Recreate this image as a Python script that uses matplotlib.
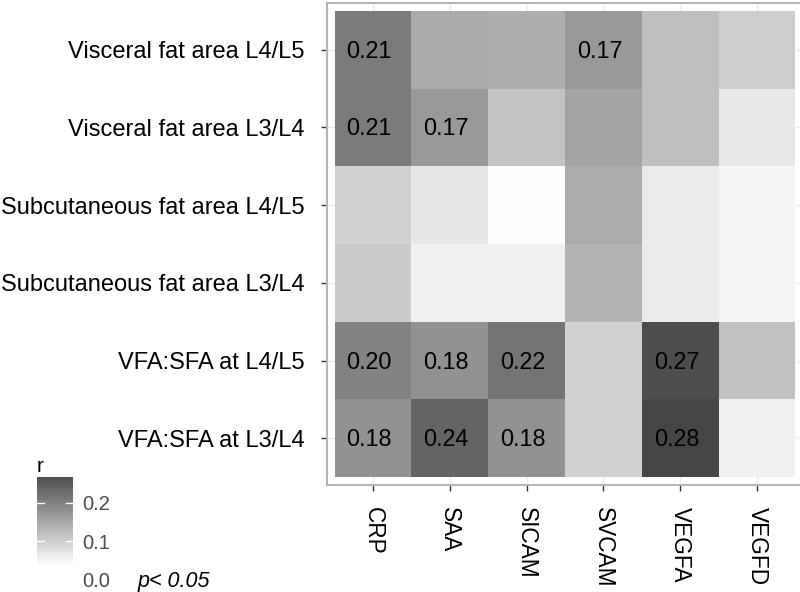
import matplotlib
matplotlib.use('Agg')
import matplotlib.pyplot as plt
import numpy as np
from matplotlib.colors import LinearSegmentedColormap, Normalize

plt.rcParams['font.family'] = ['Liberation Sans', 'DejaVu Sans']

rows = ["Visceral fat area L4/L5", "Visceral fat area L3/L4",
        "Subcutaneous fat area L4/L5", "Subcutaneous fat area L3/L4",
        "VFA:SFA at L4/L5", "VFA:SFA at L3/L4"]
cols = ["CRP", "SAA", "SICAM", "SVCAM", "VEGFA", "VEGFD"]

r_values = [
    [0.21, 0.149, 0.144, 0.17, 0.122, 0.101],
    [0.21, 0.17, 0.116, 0.156, 0.121, 0.069],
    [0.098, 0.070, 0.038, 0.147, 0.063, 0.051],
    [0.105, 0.057, 0.057, 0.135, 0.064, 0.051],
    [0.20, 0.18, 0.22, 0.098, 0.27, 0.118],
    [0.18, 0.24, 0.18, 0.098, 0.28, 0.057],
]
significant = [
    [1, 0, 0, 1, 0, 0],
    [1, 1, 0, 0, 0, 0],
    [0, 0, 0, 0, 0, 0],
    [0, 0, 0, 0, 0, 0],
    [1, 1, 1, 0, 1, 0],
    [1, 1, 1, 0, 1, 0],
]
legend_ticks = [0.0, 0.1, 0.2]
legend_range = [-0.028, 0.268]

data = np.array(r_values)
g_hi = 70 / 255
cmap = LinearSegmentedColormap.from_list('g', [(1, 1, 1), (g_hi, g_hi, g_hi)])
norm = Normalize(vmin=0.037, vmax=0.28, clip=True)

fig = plt.figure(figsize=(8, 5.92), dpi=100)
ax = fig.add_axes([327 / 800, 1 - 485 / 592, 476 / 800, 482 / 592])

ax.pcolormesh(np.arange(len(cols) + 1) - 0.5, np.arange(len(rows) + 1) - 0.5,
              data, cmap=cmap, norm=norm, zorder=1)
ax.set_xlim(-0.6, len(cols) - 0.4)
ax.set_ylim(len(rows) - 0.4, -0.6)
ax.set_axisbelow(True)
ax.grid(True, color='#ebebeb', lw=1.0)

for i in range(len(rows)):
    for j in range(len(cols)):
        if significant[i][j]:
            ax.text(j - 0.05, i + 0.02, f"{r_values[i][j]:.2f}", ha='center', va='center',
                    fontsize=16.8, color='black', zorder=3)

ax.set_xticks(range(len(cols)))
ax.set_xticklabels(cols, rotation=270, fontsize=16.3, color='black', va='top', ha='center')
ax.set_yticks(range(len(rows)))
ax.set_yticklabels(rows, fontsize=17, color='black')
ax.tick_params(axis='both', length=4, width=1, color='#333333')
ax.tick_params(axis='x', pad=11.5)
ax.tick_params(axis='y', pad=12)
for s in ax.spines.values():
    s.set_color('#b5b5b5')
    s.set_linewidth(1.5)

# legend colorbar
cax = fig.add_axes([37 / 800, 1 - 590 / 592, 36 / 800, 113 / 592])
vals = np.linspace(legend_range[0], legend_range[1], 300)[:, None]
cax.imshow(vals, cmap=cmap, norm=norm, aspect='auto', origin='lower',
           extent=[0, 1, legend_range[0], legend_range[1]])
cax.set_xlim(0, 1)
cax.set_ylim(legend_range)
for t in legend_ticks:
    cax.plot([0, 0.2], [t, t], color='white', lw=1)
    cax.plot([0.8, 1], [t, t], color='white', lw=1)
for s in cax.spines.values():
    s.set_visible(False)
cax.set_xticks([])
cax.yaxis.tick_right()
cax.set_yticks(legend_ticks)
cax.set_yticklabels([f"{t:.1f}" for t in legend_ticks], fontsize=14.5, color='#4d4d4d')
cax.tick_params(axis='y', length=0, pad=7)

fig.text(37 / 800, 1 - 467 / 592, 'r', fontsize=15, va='center', ha='left')
fig.text(138 / 800, 1 - 581 / 592, 'p< 0.05', fontsize=15.5, style='italic', va='center', ha='left')

fig.savefig('out.png', dpi=100)
